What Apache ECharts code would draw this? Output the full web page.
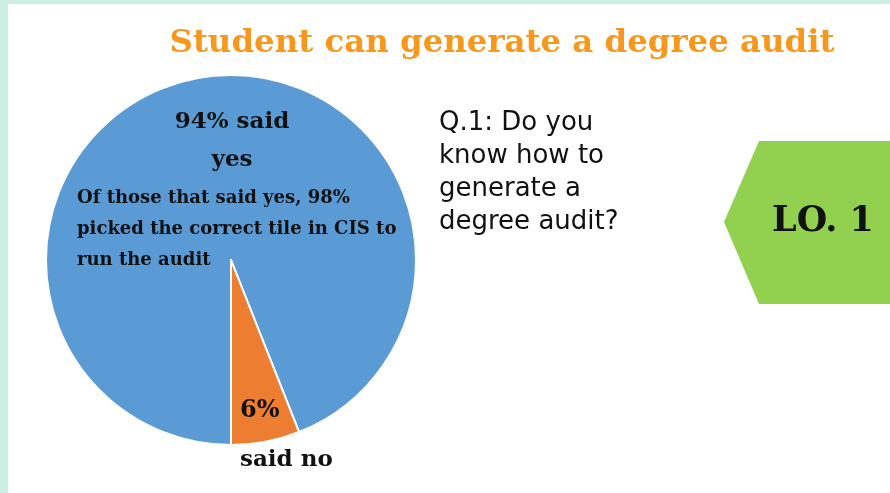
<!DOCTYPE html>
<html><head><meta charset="utf-8">
<script src="https://cdn.jsdelivr.net/npm/echarts@6/dist/echarts.min.js"></script>
<style>html,body{margin:0;padding:0;background:#fff}#c{width:890px;height:493px}</style>
</head><body><div id="c"></div>
<script>
const categories = ['said yes', 'said no'];
const values = [94, 6];
const sliceColors = ['#5b9bd5', '#ed7d31'];
const titleText = 'Student can generate a degree audit';
const yesLabel = '94% said\nyes';
const yesNote = 'Of those that said yes, 98%\npicked the correct tile in CIS to\nrun the audit';
const noPct = '6%';
const noLabel = 'said no';
const questionText = 'Q.1: Do you\nknow how to\ngenerate a\ndegree audit?';
const badgeText = 'LO. 1';

const chart = echarts.init(document.getElementById('c'), null, {renderer: 'canvas'});
const serif = 'DejaVu Serif';
function txt(x, y, text, size, opts) {
  return {type: 'text', x: x, y: y, z: 10, style: Object.assign({
    text: text, fill: '#111', fontFamily: serif, fontWeight: 'bold', fontSize: size,
    align: 'left', verticalAlign: 'middle'
  }, opts || {})};
}
chart.setOption({
  backgroundColor: '#ffffff',
  animation: false,
  graphic: [
    {type: 'rect', left: 0, top: 0, shape: {width: 890, height: 4}, style: {fill: '#cdeee3'}, z: 0},
    {type: 'rect', left: 0, top: 0, shape: {width: 8, height: 493}, style: {fill: '#cdeee3'}, z: 0},
    {type: 'polygon', shape: {points: [[724, 222], [759, 141], [890, 141], [890, 304], [759, 304]]}, style: {fill: '#92d050'}, z: 0},
    txt(502, 44, titleText, 32.4, {fill: '#f7981d', align: 'center'}),
    txt(232, 141, yesLabel, 23, {align: 'center', lineHeight: 38}),
    txt(77, 229, yesNote, 18, {lineHeight: 31}),
    txt(240, 411, noPct, 24),
    txt(240, 460, noLabel, 23),
    txt(439, 173, questionText, 26, {fontFamily: 'DejaVu Sans', fontWeight: 'normal', lineHeight: 33}),
    txt(823, 222, badgeText, 35, {align: 'center'})
  ],
  series: [{
    type: 'pie',
    center: [231, 260],
    radius: [0, 185],
    startAngle: -90,
    clockwise: true,
    label: {show: false},
    labelLine: {show: false},
    silent: true,
    itemStyle: {borderColor: '#ffffff', borderWidth: 2},
    data: categories.map((n, i) => ({name: n, value: values[i], itemStyle: {color: sliceColors[i]}}))
  }]
});
</script></body></html>
